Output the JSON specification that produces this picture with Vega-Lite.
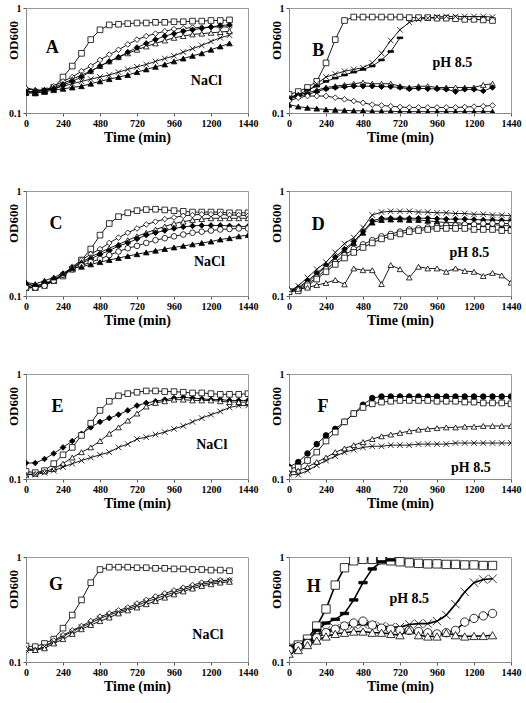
{
"$schema":"https://vega.github.io/schema/vega-lite/v6.json",
"padding":{"left":6,"top":2,"right":0,"bottom":0},
"background":"white",
"data":{"values":[
{"p":"A","s":"sq","t":0,"v":0.16},{"p":"A","s":"sq","t":60,"v":0.155},{"p":"A","s":"sq","t":120,"v":0.16},{"p":"A","s":"sq","t":180,"v":0.175},{"p":"A","s":"sq","t":240,"v":0.22},{"p":"A","s":"sq","t":300,"v":0.28},{"p":"A","s":"sq","t":360,"v":0.37},{"p":"A","s":"sq","t":420,"v":0.5},{"p":"A","s":"sq","t":480,"v":0.62},{"p":"A","s":"sq","t":540,"v":0.69},{"p":"A","s":"sq","t":600,"v":0.7},{"p":"A","s":"sq","t":660,"v":0.71},{"p":"A","s":"sq","t":720,"v":0.72},{"p":"A","s":"sq","t":780,"v":0.72},{"p":"A","s":"sq","t":840,"v":0.73},{"p":"A","s":"sq","t":900,"v":0.73},{"p":"A","s":"sq","t":960,"v":0.74},{"p":"A","s":"sq","t":1020,"v":0.74},{"p":"A","s":"sq","t":1080,"v":0.75},{"p":"A","s":"sq","t":1140,"v":0.75},{"p":"A","s":"sq","t":1200,"v":0.76},{"p":"A","s":"sq","t":1260,"v":0.76},{"p":"A","s":"sq","t":1320,"v":0.77},
{"p":"A","s":"od","t":0,"v":0.17},{"p":"A","s":"od","t":60,"v":0.165},{"p":"A","s":"od","t":120,"v":0.165},{"p":"A","s":"od","t":180,"v":0.18},{"p":"A","s":"od","t":240,"v":0.2},{"p":"A","s":"od","t":300,"v":0.22},{"p":"A","s":"od","t":360,"v":0.25},{"p":"A","s":"od","t":420,"v":0.28},{"p":"A","s":"od","t":480,"v":0.32},{"p":"A","s":"od","t":540,"v":0.36},{"p":"A","s":"od","t":600,"v":0.4},{"p":"A","s":"od","t":660,"v":0.45},{"p":"A","s":"od","t":720,"v":0.5},{"p":"A","s":"od","t":780,"v":0.54},{"p":"A","s":"od","t":840,"v":0.57},{"p":"A","s":"od","t":900,"v":0.6},{"p":"A","s":"od","t":960,"v":0.63},{"p":"A","s":"od","t":1020,"v":0.64},{"p":"A","s":"od","t":1080,"v":0.65},{"p":"A","s":"od","t":1140,"v":0.65},{"p":"A","s":"od","t":1200,"v":0.66},{"p":"A","s":"od","t":1260,"v":0.66},{"p":"A","s":"od","t":1320,"v":0.66},
{"p":"A","s":"ot","t":0,"v":0.175},{"p":"A","s":"ot","t":60,"v":0.165},{"p":"A","s":"ot","t":120,"v":0.165},{"p":"A","s":"ot","t":180,"v":0.175},{"p":"A","s":"ot","t":240,"v":0.19},{"p":"A","s":"ot","t":300,"v":0.21},{"p":"A","s":"ot","t":360,"v":0.23},{"p":"A","s":"ot","t":420,"v":0.25},{"p":"A","s":"ot","t":480,"v":0.28},{"p":"A","s":"ot","t":540,"v":0.31},{"p":"A","s":"ot","t":600,"v":0.34},{"p":"A","s":"ot","t":660,"v":0.37},{"p":"A","s":"ot","t":720,"v":0.4},{"p":"A","s":"ot","t":780,"v":0.43},{"p":"A","s":"ot","t":840,"v":0.46},{"p":"A","s":"ot","t":900,"v":0.49},{"p":"A","s":"ot","t":960,"v":0.52},{"p":"A","s":"ot","t":1020,"v":0.54},{"p":"A","s":"ot","t":1080,"v":0.56},{"p":"A","s":"ot","t":1140,"v":0.57},{"p":"A","s":"ot","t":1200,"v":0.58},{"p":"A","s":"ot","t":1260,"v":0.59},{"p":"A","s":"ot","t":1320,"v":0.6},
{"p":"A","s":"fd","t":0,"v":0.16},{"p":"A","s":"fd","t":60,"v":0.16},{"p":"A","s":"fd","t":120,"v":0.165},{"p":"A","s":"fd","t":180,"v":0.17},{"p":"A","s":"fd","t":240,"v":0.185},{"p":"A","s":"fd","t":300,"v":0.2},{"p":"A","s":"fd","t":360,"v":0.22},{"p":"A","s":"fd","t":420,"v":0.25},{"p":"A","s":"fd","t":480,"v":0.28},{"p":"A","s":"fd","t":540,"v":0.31},{"p":"A","s":"fd","t":600,"v":0.34},{"p":"A","s":"fd","t":660,"v":0.38},{"p":"A","s":"fd","t":720,"v":0.42},{"p":"A","s":"fd","t":780,"v":0.46},{"p":"A","s":"fd","t":840,"v":0.5},{"p":"A","s":"fd","t":900,"v":0.54},{"p":"A","s":"fd","t":960,"v":0.57},{"p":"A","s":"fd","t":1020,"v":0.6},{"p":"A","s":"fd","t":1080,"v":0.62},{"p":"A","s":"fd","t":1140,"v":0.64},{"p":"A","s":"fd","t":1200,"v":0.66},{"p":"A","s":"fd","t":1260,"v":0.68},{"p":"A","s":"fd","t":1320,"v":0.69},
{"p":"A","s":"x","t":0,"v":0.16},{"p":"A","s":"x","t":60,"v":0.16},{"p":"A","s":"x","t":120,"v":0.165},{"p":"A","s":"x","t":180,"v":0.17},{"p":"A","s":"x","t":240,"v":0.18},{"p":"A","s":"x","t":300,"v":0.19},{"p":"A","s":"x","t":360,"v":0.2},{"p":"A","s":"x","t":420,"v":0.21},{"p":"A","s":"x","t":480,"v":0.22},{"p":"A","s":"x","t":540,"v":0.23},{"p":"A","s":"x","t":600,"v":0.245},{"p":"A","s":"x","t":660,"v":0.26},{"p":"A","s":"x","t":720,"v":0.275},{"p":"A","s":"x","t":780,"v":0.29},{"p":"A","s":"x","t":840,"v":0.31},{"p":"A","s":"x","t":900,"v":0.33},{"p":"A","s":"x","t":960,"v":0.35},{"p":"A","s":"x","t":1020,"v":0.38},{"p":"A","s":"x","t":1080,"v":0.41},{"p":"A","s":"x","t":1140,"v":0.44},{"p":"A","s":"x","t":1200,"v":0.48},{"p":"A","s":"x","t":1260,"v":0.52},{"p":"A","s":"x","t":1320,"v":0.55},
{"p":"A","s":"ft","t":0,"v":0.155},{"p":"A","s":"ft","t":60,"v":0.155},{"p":"A","s":"ft","t":120,"v":0.16},{"p":"A","s":"ft","t":180,"v":0.165},{"p":"A","s":"ft","t":240,"v":0.17},{"p":"A","s":"ft","t":300,"v":0.175},{"p":"A","s":"ft","t":360,"v":0.18},{"p":"A","s":"ft","t":420,"v":0.19},{"p":"A","s":"ft","t":480,"v":0.2},{"p":"A","s":"ft","t":540,"v":0.21},{"p":"A","s":"ft","t":600,"v":0.22},{"p":"A","s":"ft","t":660,"v":0.23},{"p":"A","s":"ft","t":720,"v":0.245},{"p":"A","s":"ft","t":780,"v":0.26},{"p":"A","s":"ft","t":840,"v":0.275},{"p":"A","s":"ft","t":900,"v":0.29},{"p":"A","s":"ft","t":960,"v":0.31},{"p":"A","s":"ft","t":1020,"v":0.33},{"p":"A","s":"ft","t":1080,"v":0.35},{"p":"A","s":"ft","t":1140,"v":0.37},{"p":"A","s":"ft","t":1200,"v":0.4},{"p":"A","s":"ft","t":1260,"v":0.43},{"p":"A","s":"ft","t":1320,"v":0.46},
{"p":"B","s":"sq","t":0,"v":0.15},{"p":"B","s":"sq","t":60,"v":0.16},{"p":"B","s":"sq","t":120,"v":0.175},{"p":"B","s":"sq","t":180,"v":0.2},{"p":"B","s":"sq","t":240,"v":0.3},{"p":"B","s":"sq","t":300,"v":0.5},{"p":"B","s":"sq","t":360,"v":0.76},{"p":"B","s":"sq","t":420,"v":0.82},{"p":"B","s":"sq","t":480,"v":0.82},{"p":"B","s":"sq","t":540,"v":0.82},{"p":"B","s":"sq","t":600,"v":0.82},{"p":"B","s":"sq","t":660,"v":0.82},{"p":"B","s":"sq","t":720,"v":0.82},{"p":"B","s":"sq","t":780,"v":0.81},{"p":"B","s":"sq","t":840,"v":0.81},{"p":"B","s":"sq","t":900,"v":0.81},{"p":"B","s":"sq","t":960,"v":0.8},{"p":"B","s":"sq","t":1020,"v":0.8},{"p":"B","s":"sq","t":1080,"v":0.79},{"p":"B","s":"sq","t":1140,"v":0.78},{"p":"B","s":"sq","t":1200,"v":0.78},{"p":"B","s":"sq","t":1260,"v":0.77},{"p":"B","s":"sq","t":1320,"v":0.76},
{"p":"B","s":"x","t":0,"v":0.14},{"p":"B","s":"x","t":60,"v":0.145},{"p":"B","s":"x","t":120,"v":0.16},{"p":"B","s":"x","t":180,"v":0.19},{"p":"B","s":"x","t":240,"v":0.22},{"p":"B","s":"x","t":300,"v":0.235},{"p":"B","s":"x","t":360,"v":0.25},{"p":"B","s":"x","t":420,"v":0.26},{"p":"B","s":"x","t":480,"v":0.27},{"p":"B","s":"x","t":540,"v":0.3},{"p":"B","s":"x","t":600,"v":0.37},{"p":"B","s":"x","t":660,"v":0.49},{"p":"B","s":"x","t":720,"v":0.62},{"p":"B","s":"x","t":780,"v":0.73},{"p":"B","s":"x","t":840,"v":0.78},{"p":"B","s":"x","t":900,"v":0.8},{"p":"B","s":"x","t":960,"v":0.82},{"p":"B","s":"x","t":1020,"v":0.83},{"p":"B","s":"x","t":1080,"v":0.83},{"p":"B","s":"x","t":1140,"v":0.83},{"p":"B","s":"x","t":1200,"v":0.83},{"p":"B","s":"x","t":1260,"v":0.83},{"p":"B","s":"x","t":1320,"v":0.82},
{"p":"B","s":"dash","t":0,"v":0.14},{"p":"B","s":"dash","t":60,"v":0.15},{"p":"B","s":"dash","t":120,"v":0.165},{"p":"B","s":"dash","t":180,"v":0.18},{"p":"B","s":"dash","t":240,"v":0.2},{"p":"B","s":"dash","t":300,"v":0.215},{"p":"B","s":"dash","t":360,"v":0.23},{"p":"B","s":"dash","t":420,"v":0.245},{"p":"B","s":"dash","t":480,"v":0.26},{"p":"B","s":"dash","t":540,"v":0.28},{"p":"B","s":"dash","t":600,"v":0.32},{"p":"B","s":"dash","t":660,"v":0.385},{"p":"B","s":"dash","t":720,"v":0.52},
{"p":"B","s":"ot","t":0,"v":0.14},{"p":"B","s":"ot","t":60,"v":0.15},{"p":"B","s":"ot","t":120,"v":0.155},{"p":"B","s":"ot","t":180,"v":0.165},{"p":"B","s":"ot","t":240,"v":0.175},{"p":"B","s":"ot","t":300,"v":0.18},{"p":"B","s":"ot","t":360,"v":0.185},{"p":"B","s":"ot","t":420,"v":0.19},{"p":"B","s":"ot","t":480,"v":0.195},{"p":"B","s":"ot","t":540,"v":0.19},{"p":"B","s":"ot","t":600,"v":0.19},{"p":"B","s":"ot","t":660,"v":0.19},{"p":"B","s":"ot","t":720,"v":0.18},{"p":"B","s":"ot","t":780,"v":0.175},{"p":"B","s":"ot","t":840,"v":0.18},{"p":"B","s":"ot","t":900,"v":0.18},{"p":"B","s":"ot","t":960,"v":0.175},{"p":"B","s":"ot","t":1020,"v":0.175},{"p":"B","s":"ot","t":1080,"v":0.175},{"p":"B","s":"ot","t":1140,"v":0.175},{"p":"B","s":"ot","t":1200,"v":0.175},{"p":"B","s":"ot","t":1260,"v":0.185},{"p":"B","s":"ot","t":1320,"v":0.19},
{"p":"B","s":"fd","t":0,"v":0.135},{"p":"B","s":"fd","t":60,"v":0.145},{"p":"B","s":"fd","t":120,"v":0.15},{"p":"B","s":"fd","t":180,"v":0.16},{"p":"B","s":"fd","t":240,"v":0.17},{"p":"B","s":"fd","t":300,"v":0.175},{"p":"B","s":"fd","t":360,"v":0.178},{"p":"B","s":"fd","t":420,"v":0.18},{"p":"B","s":"fd","t":480,"v":0.18},{"p":"B","s":"fd","t":540,"v":0.18},{"p":"B","s":"fd","t":600,"v":0.178},{"p":"B","s":"fd","t":660,"v":0.178},{"p":"B","s":"fd","t":720,"v":0.175},{"p":"B","s":"fd","t":780,"v":0.17},{"p":"B","s":"fd","t":840,"v":0.172},{"p":"B","s":"fd","t":900,"v":0.17},{"p":"B","s":"fd","t":960,"v":0.17},{"p":"B","s":"fd","t":1020,"v":0.168},{"p":"B","s":"fd","t":1080,"v":0.16},{"p":"B","s":"fd","t":1140,"v":0.168},{"p":"B","s":"fd","t":1200,"v":0.168},{"p":"B","s":"fd","t":1260,"v":0.162},{"p":"B","s":"fd","t":1320,"v":0.175},
{"p":"B","s":"od","t":0,"v":0.13},{"p":"B","s":"od","t":60,"v":0.14},{"p":"B","s":"od","t":120,"v":0.145},{"p":"B","s":"od","t":180,"v":0.145},{"p":"B","s":"od","t":240,"v":0.145},{"p":"B","s":"od","t":300,"v":0.14},{"p":"B","s":"od","t":360,"v":0.135},{"p":"B","s":"od","t":420,"v":0.13},{"p":"B","s":"od","t":480,"v":0.125},{"p":"B","s":"od","t":540,"v":0.12},{"p":"B","s":"od","t":600,"v":0.118},{"p":"B","s":"od","t":660,"v":0.116},{"p":"B","s":"od","t":720,"v":0.114},{"p":"B","s":"od","t":780,"v":0.113},{"p":"B","s":"od","t":840,"v":0.113},{"p":"B","s":"od","t":900,"v":0.113},{"p":"B","s":"od","t":960,"v":0.113},{"p":"B","s":"od","t":1020,"v":0.113},{"p":"B","s":"od","t":1080,"v":0.113},{"p":"B","s":"od","t":1140,"v":0.114},{"p":"B","s":"od","t":1200,"v":0.115},{"p":"B","s":"od","t":1260,"v":0.116},{"p":"B","s":"od","t":1320,"v":0.118},
{"p":"B","s":"ft","t":0,"v":0.12},{"p":"B","s":"ft","t":60,"v":0.115},{"p":"B","s":"ft","t":120,"v":0.112},{"p":"B","s":"ft","t":180,"v":0.11},{"p":"B","s":"ft","t":240,"v":0.108},{"p":"B","s":"ft","t":300,"v":0.107},{"p":"B","s":"ft","t":360,"v":0.106},{"p":"B","s":"ft","t":420,"v":0.105},{"p":"B","s":"ft","t":480,"v":0.105},{"p":"B","s":"ft","t":540,"v":0.104},{"p":"B","s":"ft","t":600,"v":0.104},{"p":"B","s":"ft","t":660,"v":0.104},{"p":"B","s":"ft","t":720,"v":0.103},{"p":"B","s":"ft","t":780,"v":0.103},{"p":"B","s":"ft","t":840,"v":0.103},{"p":"B","s":"ft","t":900,"v":0.103},{"p":"B","s":"ft","t":960,"v":0.103},{"p":"B","s":"ft","t":1020,"v":0.103},{"p":"B","s":"ft","t":1080,"v":0.103},{"p":"B","s":"ft","t":1140,"v":0.103},{"p":"B","s":"ft","t":1200,"v":0.103},{"p":"B","s":"ft","t":1260,"v":0.103},{"p":"B","s":"ft","t":1320,"v":0.103},
{"p":"C","s":"sq","t":0,"v":0.12},{"p":"C","s":"sq","t":60,"v":0.12},{"p":"C","s":"sq","t":120,"v":0.13},{"p":"C","s":"sq","t":180,"v":0.14},{"p":"C","s":"sq","t":240,"v":0.155},{"p":"C","s":"sq","t":300,"v":0.18},{"p":"C","s":"sq","t":360,"v":0.22},{"p":"C","s":"sq","t":420,"v":0.28},{"p":"C","s":"sq","t":480,"v":0.38},{"p":"C","s":"sq","t":540,"v":0.49},{"p":"C","s":"sq","t":600,"v":0.57},{"p":"C","s":"sq","t":660,"v":0.62},{"p":"C","s":"sq","t":720,"v":0.65},{"p":"C","s":"sq","t":780,"v":0.665},{"p":"C","s":"sq","t":840,"v":0.67},{"p":"C","s":"sq","t":900,"v":0.66},{"p":"C","s":"sq","t":960,"v":0.65},{"p":"C","s":"sq","t":1020,"v":0.64},{"p":"C","s":"sq","t":1080,"v":0.63},{"p":"C","s":"sq","t":1140,"v":0.63},{"p":"C","s":"sq","t":1200,"v":0.63},{"p":"C","s":"sq","t":1260,"v":0.63},{"p":"C","s":"sq","t":1320,"v":0.62},{"p":"C","s":"sq","t":1380,"v":0.62},{"p":"C","s":"sq","t":1440,"v":0.62},
{"p":"C","s":"od","t":0,"v":0.13},{"p":"C","s":"od","t":60,"v":0.125},{"p":"C","s":"od","t":120,"v":0.13},{"p":"C","s":"od","t":180,"v":0.14},{"p":"C","s":"od","t":240,"v":0.16},{"p":"C","s":"od","t":300,"v":0.19},{"p":"C","s":"od","t":360,"v":0.22},{"p":"C","s":"od","t":420,"v":0.25},{"p":"C","s":"od","t":480,"v":0.28},{"p":"C","s":"od","t":540,"v":0.32},{"p":"C","s":"od","t":600,"v":0.36},{"p":"C","s":"od","t":660,"v":0.4},{"p":"C","s":"od","t":720,"v":0.44},{"p":"C","s":"od","t":780,"v":0.48},{"p":"C","s":"od","t":840,"v":0.51},{"p":"C","s":"od","t":900,"v":0.54},{"p":"C","s":"od","t":960,"v":0.56},{"p":"C","s":"od","t":1020,"v":0.58},{"p":"C","s":"od","t":1080,"v":0.59},{"p":"C","s":"od","t":1140,"v":0.6},{"p":"C","s":"od","t":1200,"v":0.6},{"p":"C","s":"od","t":1260,"v":0.6},{"p":"C","s":"od","t":1320,"v":0.59},{"p":"C","s":"od","t":1380,"v":0.59},{"p":"C","s":"od","t":1440,"v":0.58},
{"p":"C","s":"ot","t":0,"v":0.125},{"p":"C","s":"ot","t":60,"v":0.12},{"p":"C","s":"ot","t":120,"v":0.125},{"p":"C","s":"ot","t":180,"v":0.14},{"p":"C","s":"ot","t":240,"v":0.16},{"p":"C","s":"ot","t":300,"v":0.185},{"p":"C","s":"ot","t":360,"v":0.21},{"p":"C","s":"ot","t":420,"v":0.235},{"p":"C","s":"ot","t":480,"v":0.26},{"p":"C","s":"ot","t":540,"v":0.285},{"p":"C","s":"ot","t":600,"v":0.31},{"p":"C","s":"ot","t":660,"v":0.34},{"p":"C","s":"ot","t":720,"v":0.37},{"p":"C","s":"ot","t":780,"v":0.4},{"p":"C","s":"ot","t":840,"v":0.43},{"p":"C","s":"ot","t":900,"v":0.46},{"p":"C","s":"ot","t":960,"v":0.49},{"p":"C","s":"ot","t":1020,"v":0.51},{"p":"C","s":"ot","t":1080,"v":0.53},{"p":"C","s":"ot","t":1140,"v":0.54},{"p":"C","s":"ot","t":1200,"v":0.55},{"p":"C","s":"ot","t":1260,"v":0.55},{"p":"C","s":"ot","t":1320,"v":0.55},{"p":"C","s":"ot","t":1380,"v":0.55},{"p":"C","s":"ot","t":1440,"v":0.55},
{"p":"C","s":"fd","t":0,"v":0.13},{"p":"C","s":"fd","t":60,"v":0.125},{"p":"C","s":"fd","t":120,"v":0.13},{"p":"C","s":"fd","t":180,"v":0.145},{"p":"C","s":"fd","t":240,"v":0.16},{"p":"C","s":"fd","t":300,"v":0.185},{"p":"C","s":"fd","t":360,"v":0.205},{"p":"C","s":"fd","t":420,"v":0.225},{"p":"C","s":"fd","t":480,"v":0.25},{"p":"C","s":"fd","t":540,"v":0.27},{"p":"C","s":"fd","t":600,"v":0.3},{"p":"C","s":"fd","t":660,"v":0.32},{"p":"C","s":"fd","t":720,"v":0.35},{"p":"C","s":"fd","t":780,"v":0.38},{"p":"C","s":"fd","t":840,"v":0.4},{"p":"C","s":"fd","t":900,"v":0.42},{"p":"C","s":"fd","t":960,"v":0.44},{"p":"C","s":"fd","t":1020,"v":0.455},{"p":"C","s":"fd","t":1080,"v":0.465},{"p":"C","s":"fd","t":1140,"v":0.47},{"p":"C","s":"fd","t":1200,"v":0.47},{"p":"C","s":"fd","t":1260,"v":0.47},{"p":"C","s":"fd","t":1320,"v":0.465},{"p":"C","s":"fd","t":1380,"v":0.46},{"p":"C","s":"fd","t":1440,"v":0.46},
{"p":"C","s":"oc","t":0,"v":0.12},{"p":"C","s":"oc","t":60,"v":0.12},{"p":"C","s":"oc","t":120,"v":0.125},{"p":"C","s":"oc","t":180,"v":0.14},{"p":"C","s":"oc","t":240,"v":0.16},{"p":"C","s":"oc","t":300,"v":0.18},{"p":"C","s":"oc","t":360,"v":0.195},{"p":"C","s":"oc","t":420,"v":0.21},{"p":"C","s":"oc","t":480,"v":0.225},{"p":"C","s":"oc","t":540,"v":0.245},{"p":"C","s":"oc","t":600,"v":0.265},{"p":"C","s":"oc","t":660,"v":0.285},{"p":"C","s":"oc","t":720,"v":0.3},{"p":"C","s":"oc","t":780,"v":0.32},{"p":"C","s":"oc","t":840,"v":0.34},{"p":"C","s":"oc","t":900,"v":0.355},{"p":"C","s":"oc","t":960,"v":0.37},{"p":"C","s":"oc","t":1020,"v":0.385},{"p":"C","s":"oc","t":1080,"v":0.4},{"p":"C","s":"oc","t":1140,"v":0.41},{"p":"C","s":"oc","t":1200,"v":0.42},{"p":"C","s":"oc","t":1260,"v":0.43},{"p":"C","s":"oc","t":1320,"v":0.435},{"p":"C","s":"oc","t":1380,"v":0.44},{"p":"C","s":"oc","t":1440,"v":0.44},
{"p":"C","s":"ft","t":0,"v":0.135},{"p":"C","s":"ft","t":60,"v":0.13},{"p":"C","s":"ft","t":120,"v":0.14},{"p":"C","s":"ft","t":180,"v":0.15},{"p":"C","s":"ft","t":240,"v":0.165},{"p":"C","s":"ft","t":300,"v":0.185},{"p":"C","s":"ft","t":360,"v":0.19},{"p":"C","s":"ft","t":420,"v":0.2},{"p":"C","s":"ft","t":480,"v":0.21},{"p":"C","s":"ft","t":540,"v":0.22},{"p":"C","s":"ft","t":600,"v":0.23},{"p":"C","s":"ft","t":660,"v":0.24},{"p":"C","s":"ft","t":720,"v":0.25},{"p":"C","s":"ft","t":780,"v":0.26},{"p":"C","s":"ft","t":840,"v":0.27},{"p":"C","s":"ft","t":900,"v":0.28},{"p":"C","s":"ft","t":960,"v":0.29},{"p":"C","s":"ft","t":1020,"v":0.3},{"p":"C","s":"ft","t":1080,"v":0.31},{"p":"C","s":"ft","t":1140,"v":0.32},{"p":"C","s":"ft","t":1200,"v":0.33},{"p":"C","s":"ft","t":1260,"v":0.345},{"p":"C","s":"ft","t":1320,"v":0.355},{"p":"C","s":"ft","t":1380,"v":0.37},{"p":"C","s":"ft","t":1440,"v":0.38},
{"p":"D","s":"x","t":0,"v":0.11},{"p":"D","s":"x","t":60,"v":0.125},{"p":"D","s":"x","t":120,"v":0.15},{"p":"D","s":"x","t":180,"v":0.18},{"p":"D","s":"x","t":240,"v":0.21},{"p":"D","s":"x","t":300,"v":0.26},{"p":"D","s":"x","t":360,"v":0.315},{"p":"D","s":"x","t":420,"v":0.36},{"p":"D","s":"x","t":480,"v":0.45},{"p":"D","s":"x","t":540,"v":0.59},{"p":"D","s":"x","t":600,"v":0.63},{"p":"D","s":"x","t":660,"v":0.64},{"p":"D","s":"x","t":720,"v":0.64},{"p":"D","s":"x","t":780,"v":0.64},{"p":"D","s":"x","t":840,"v":0.63},{"p":"D","s":"x","t":900,"v":0.63},{"p":"D","s":"x","t":960,"v":0.62},{"p":"D","s":"x","t":1020,"v":0.62},{"p":"D","s":"x","t":1080,"v":0.61},{"p":"D","s":"x","t":1140,"v":0.61},{"p":"D","s":"x","t":1200,"v":0.6},{"p":"D","s":"x","t":1260,"v":0.6},{"p":"D","s":"x","t":1320,"v":0.59},{"p":"D","s":"x","t":1380,"v":0.59},{"p":"D","s":"x","t":1440,"v":0.58},
{"p":"D","s":"fd","t":0,"v":0.11},{"p":"D","s":"fd","t":60,"v":0.12},{"p":"D","s":"fd","t":120,"v":0.14},{"p":"D","s":"fd","t":180,"v":0.165},{"p":"D","s":"fd","t":240,"v":0.195},{"p":"D","s":"fd","t":300,"v":0.235},{"p":"D","s":"fd","t":360,"v":0.28},{"p":"D","s":"fd","t":420,"v":0.33},{"p":"D","s":"fd","t":480,"v":0.41},{"p":"D","s":"fd","t":540,"v":0.52},{"p":"D","s":"fd","t":600,"v":0.55},{"p":"D","s":"fd","t":660,"v":0.55},{"p":"D","s":"fd","t":720,"v":0.55},{"p":"D","s":"fd","t":780,"v":0.55},{"p":"D","s":"fd","t":840,"v":0.55},{"p":"D","s":"fd","t":900,"v":0.55},{"p":"D","s":"fd","t":960,"v":0.545},{"p":"D","s":"fd","t":1020,"v":0.54},{"p":"D","s":"fd","t":1080,"v":0.54},{"p":"D","s":"fd","t":1140,"v":0.54},{"p":"D","s":"fd","t":1200,"v":0.535},{"p":"D","s":"fd","t":1260,"v":0.53},{"p":"D","s":"fd","t":1320,"v":0.53},{"p":"D","s":"fd","t":1380,"v":0.525},{"p":"D","s":"fd","t":1440,"v":0.525},
{"p":"D","s":"ft","t":0,"v":0.11},{"p":"D","s":"ft","t":60,"v":0.118},{"p":"D","s":"ft","t":120,"v":0.135},{"p":"D","s":"ft","t":180,"v":0.16},{"p":"D","s":"ft","t":240,"v":0.19},{"p":"D","s":"ft","t":300,"v":0.225},{"p":"D","s":"ft","t":360,"v":0.27},{"p":"D","s":"ft","t":420,"v":0.32},{"p":"D","s":"ft","t":480,"v":0.4},{"p":"D","s":"ft","t":540,"v":0.5},{"p":"D","s":"ft","t":600,"v":0.53},{"p":"D","s":"ft","t":660,"v":0.535},{"p":"D","s":"ft","t":720,"v":0.535},{"p":"D","s":"ft","t":780,"v":0.53},{"p":"D","s":"ft","t":840,"v":0.53},{"p":"D","s":"ft","t":900,"v":0.52},{"p":"D","s":"ft","t":960,"v":0.51},{"p":"D","s":"ft","t":1020,"v":0.5},{"p":"D","s":"ft","t":1080,"v":0.5},{"p":"D","s":"ft","t":1140,"v":0.49},{"p":"D","s":"ft","t":1200,"v":0.49},{"p":"D","s":"ft","t":1260,"v":0.48},{"p":"D","s":"ft","t":1320,"v":0.48},{"p":"D","s":"ft","t":1380,"v":0.47},{"p":"D","s":"ft","t":1440,"v":0.465},
{"p":"D","s":"oc","t":0,"v":0.11},{"p":"D","s":"oc","t":60,"v":0.115},{"p":"D","s":"oc","t":120,"v":0.13},{"p":"D","s":"oc","t":180,"v":0.15},{"p":"D","s":"oc","t":240,"v":0.18},{"p":"D","s":"oc","t":300,"v":0.21},{"p":"D","s":"oc","t":360,"v":0.245},{"p":"D","s":"oc","t":420,"v":0.28},{"p":"D","s":"oc","t":480,"v":0.31},{"p":"D","s":"oc","t":540,"v":0.34},{"p":"D","s":"oc","t":600,"v":0.37},{"p":"D","s":"oc","t":660,"v":0.39},{"p":"D","s":"oc","t":720,"v":0.41},{"p":"D","s":"oc","t":780,"v":0.43},{"p":"D","s":"oc","t":840,"v":0.44},{"p":"D","s":"oc","t":900,"v":0.45},{"p":"D","s":"oc","t":960,"v":0.46},{"p":"D","s":"oc","t":1020,"v":0.47},{"p":"D","s":"oc","t":1080,"v":0.47},{"p":"D","s":"oc","t":1140,"v":0.48},{"p":"D","s":"oc","t":1200,"v":0.48},{"p":"D","s":"oc","t":1260,"v":0.49},{"p":"D","s":"oc","t":1320,"v":0.49},{"p":"D","s":"oc","t":1380,"v":0.49},{"p":"D","s":"oc","t":1440,"v":0.49},
{"p":"D","s":"sq","t":0,"v":0.11},{"p":"D","s":"sq","t":60,"v":0.112},{"p":"D","s":"sq","t":120,"v":0.125},{"p":"D","s":"sq","t":180,"v":0.145},{"p":"D","s":"sq","t":240,"v":0.17},{"p":"D","s":"sq","t":300,"v":0.2},{"p":"D","s":"sq","t":360,"v":0.23},{"p":"D","s":"sq","t":420,"v":0.26},{"p":"D","s":"sq","t":480,"v":0.29},{"p":"D","s":"sq","t":540,"v":0.32},{"p":"D","s":"sq","t":600,"v":0.35},{"p":"D","s":"sq","t":660,"v":0.37},{"p":"D","s":"sq","t":720,"v":0.39},{"p":"D","s":"sq","t":780,"v":0.41},{"p":"D","s":"sq","t":840,"v":0.42},{"p":"D","s":"sq","t":900,"v":0.43},{"p":"D","s":"sq","t":960,"v":0.44},{"p":"D","s":"sq","t":1020,"v":0.44},{"p":"D","s":"sq","t":1080,"v":0.44},{"p":"D","s":"sq","t":1140,"v":0.44},{"p":"D","s":"sq","t":1200,"v":0.43},{"p":"D","s":"sq","t":1260,"v":0.43},{"p":"D","s":"sq","t":1320,"v":0.43},{"p":"D","s":"sq","t":1380,"v":0.42},{"p":"D","s":"sq","t":1440,"v":0.42},
{"p":"D","s":"ot","t":0,"v":0.116},{"p":"D","s":"ot","t":60,"v":0.117},{"p":"D","s":"ot","t":120,"v":0.12},{"p":"D","s":"ot","t":180,"v":0.127},{"p":"D","s":"ot","t":240,"v":0.133},{"p":"D","s":"ot","t":300,"v":0.142},{"p":"D","s":"ot","t":360,"v":0.129},{"p":"D","s":"ot","t":420,"v":0.183},{"p":"D","s":"ot","t":480,"v":0.176},{"p":"D","s":"ot","t":540,"v":0.176},{"p":"D","s":"ot","t":600,"v":0.13},{"p":"D","s":"ot","t":660,"v":0.197},{"p":"D","s":"ot","t":720,"v":0.18},{"p":"D","s":"ot","t":780,"v":0.15},{"p":"D","s":"ot","t":840,"v":0.19},{"p":"D","s":"ot","t":900,"v":0.183},{"p":"D","s":"ot","t":960,"v":0.183},{"p":"D","s":"ot","t":1020,"v":0.17},{"p":"D","s":"ot","t":1080,"v":0.183},{"p":"D","s":"ot","t":1140,"v":0.173},{"p":"D","s":"ot","t":1200,"v":0.17},{"p":"D","s":"ot","t":1260,"v":0.155},{"p":"D","s":"ot","t":1320,"v":0.166},{"p":"D","s":"ot","t":1380,"v":0.157},{"p":"D","s":"ot","t":1440,"v":0.134},
{"p":"E","s":"fd","t":0,"v":0.142},{"p":"E","s":"fd","t":60,"v":0.142},{"p":"E","s":"fd","t":120,"v":0.155},{"p":"E","s":"fd","t":180,"v":0.175},{"p":"E","s":"fd","t":240,"v":0.2},{"p":"E","s":"fd","t":300,"v":0.23},{"p":"E","s":"fd","t":360,"v":0.27},{"p":"E","s":"fd","t":420,"v":0.31},{"p":"E","s":"fd","t":480,"v":0.35},{"p":"E","s":"fd","t":540,"v":0.38},{"p":"E","s":"fd","t":600,"v":0.41},{"p":"E","s":"fd","t":660,"v":0.45},{"p":"E","s":"fd","t":720,"v":0.5},{"p":"E","s":"fd","t":780,"v":0.53},{"p":"E","s":"fd","t":840,"v":0.55},{"p":"E","s":"fd","t":900,"v":0.57},{"p":"E","s":"fd","t":960,"v":0.59},{"p":"E","s":"fd","t":1020,"v":0.6},{"p":"E","s":"fd","t":1080,"v":0.59},{"p":"E","s":"fd","t":1140,"v":0.58},{"p":"E","s":"fd","t":1200,"v":0.57},{"p":"E","s":"fd","t":1260,"v":0.57},{"p":"E","s":"fd","t":1320,"v":0.56},{"p":"E","s":"fd","t":1380,"v":0.56},{"p":"E","s":"fd","t":1440,"v":0.56},
{"p":"E","s":"sq","t":0,"v":0.118},{"p":"E","s":"sq","t":60,"v":0.115},{"p":"E","s":"sq","t":120,"v":0.12},{"p":"E","s":"sq","t":180,"v":0.14},{"p":"E","s":"sq","t":240,"v":0.17},{"p":"E","s":"sq","t":300,"v":0.2},{"p":"E","s":"sq","t":360,"v":0.26},{"p":"E","s":"sq","t":420,"v":0.34},{"p":"E","s":"sq","t":480,"v":0.45},{"p":"E","s":"sq","t":540,"v":0.55},{"p":"E","s":"sq","t":600,"v":0.62},{"p":"E","s":"sq","t":660,"v":0.65},{"p":"E","s":"sq","t":720,"v":0.67},{"p":"E","s":"sq","t":780,"v":0.69},{"p":"E","s":"sq","t":840,"v":0.69},{"p":"E","s":"sq","t":900,"v":0.68},{"p":"E","s":"sq","t":960,"v":0.68},{"p":"E","s":"sq","t":1020,"v":0.67},{"p":"E","s":"sq","t":1080,"v":0.66},{"p":"E","s":"sq","t":1140,"v":0.66},{"p":"E","s":"sq","t":1200,"v":0.65},{"p":"E","s":"sq","t":1260,"v":0.64},{"p":"E","s":"sq","t":1320,"v":0.64},{"p":"E","s":"sq","t":1380,"v":0.64},{"p":"E","s":"sq","t":1440,"v":0.65},
{"p":"E","s":"ot","t":0,"v":0.11},{"p":"E","s":"ot","t":60,"v":0.112},{"p":"E","s":"ot","t":120,"v":0.118},{"p":"E","s":"ot","t":180,"v":0.125},{"p":"E","s":"ot","t":240,"v":0.14},{"p":"E","s":"ot","t":300,"v":0.16},{"p":"E","s":"ot","t":360,"v":0.18},{"p":"E","s":"ot","t":420,"v":0.2},{"p":"E","s":"ot","t":480,"v":0.23},{"p":"E","s":"ot","t":540,"v":0.27},{"p":"E","s":"ot","t":600,"v":0.31},{"p":"E","s":"ot","t":660,"v":0.36},{"p":"E","s":"ot","t":720,"v":0.42},{"p":"E","s":"ot","t":780,"v":0.49},{"p":"E","s":"ot","t":840,"v":0.53},{"p":"E","s":"ot","t":900,"v":0.55},{"p":"E","s":"ot","t":960,"v":0.57},{"p":"E","s":"ot","t":1020,"v":0.57},{"p":"E","s":"ot","t":1080,"v":0.56},{"p":"E","s":"ot","t":1140,"v":0.56},{"p":"E","s":"ot","t":1200,"v":0.56},{"p":"E","s":"ot","t":1260,"v":0.55},{"p":"E","s":"ot","t":1320,"v":0.54},{"p":"E","s":"ot","t":1380,"v":0.54},{"p":"E","s":"ot","t":1440,"v":0.54},
{"p":"E","s":"x","t":0,"v":0.11},{"p":"E","s":"x","t":60,"v":0.11},{"p":"E","s":"x","t":120,"v":0.115},{"p":"E","s":"x","t":180,"v":0.12},{"p":"E","s":"x","t":240,"v":0.13},{"p":"E","s":"x","t":300,"v":0.14},{"p":"E","s":"x","t":360,"v":0.15},{"p":"E","s":"x","t":420,"v":0.16},{"p":"E","s":"x","t":480,"v":0.17},{"p":"E","s":"x","t":540,"v":0.18},{"p":"E","s":"x","t":600,"v":0.2},{"p":"E","s":"x","t":660,"v":0.215},{"p":"E","s":"x","t":720,"v":0.24},{"p":"E","s":"x","t":780,"v":0.25},{"p":"E","s":"x","t":840,"v":0.265},{"p":"E","s":"x","t":900,"v":0.28},{"p":"E","s":"x","t":960,"v":0.3},{"p":"E","s":"x","t":1020,"v":0.32},{"p":"E","s":"x","t":1080,"v":0.35},{"p":"E","s":"x","t":1140,"v":0.38},{"p":"E","s":"x","t":1200,"v":0.41},{"p":"E","s":"x","t":1260,"v":0.44},{"p":"E","s":"x","t":1320,"v":0.48},{"p":"E","s":"x","t":1380,"v":0.5},{"p":"E","s":"x","t":1440,"v":0.5},
{"p":"F","s":"fc","t":0,"v":0.13},{"p":"F","s":"fc","t":60,"v":0.145},{"p":"F","s":"fc","t":120,"v":0.175},{"p":"F","s":"fc","t":180,"v":0.215},{"p":"F","s":"fc","t":240,"v":0.26},{"p":"F","s":"fc","t":300,"v":0.3},{"p":"F","s":"fc","t":360,"v":0.35},{"p":"F","s":"fc","t":420,"v":0.42},{"p":"F","s":"fc","t":480,"v":0.51},{"p":"F","s":"fc","t":540,"v":0.59},{"p":"F","s":"fc","t":600,"v":0.61},{"p":"F","s":"fc","t":660,"v":0.61},{"p":"F","s":"fc","t":720,"v":0.61},{"p":"F","s":"fc","t":780,"v":0.61},{"p":"F","s":"fc","t":840,"v":0.61},{"p":"F","s":"fc","t":900,"v":0.61},{"p":"F","s":"fc","t":960,"v":0.61},{"p":"F","s":"fc","t":1020,"v":0.61},{"p":"F","s":"fc","t":1080,"v":0.61},{"p":"F","s":"fc","t":1140,"v":0.61},{"p":"F","s":"fc","t":1200,"v":0.61},{"p":"F","s":"fc","t":1260,"v":0.61},{"p":"F","s":"fc","t":1320,"v":0.61},{"p":"F","s":"fc","t":1380,"v":0.61},{"p":"F","s":"fc","t":1440,"v":0.61},
{"p":"F","s":"sq","t":0,"v":0.125},{"p":"F","s":"sq","t":60,"v":0.13},{"p":"F","s":"sq","t":120,"v":0.15},{"p":"F","s":"sq","t":180,"v":0.18},{"p":"F","s":"sq","t":240,"v":0.23},{"p":"F","s":"sq","t":300,"v":0.28},{"p":"F","s":"sq","t":360,"v":0.35},{"p":"F","s":"sq","t":420,"v":0.42},{"p":"F","s":"sq","t":480,"v":0.48},{"p":"F","s":"sq","t":540,"v":0.52},{"p":"F","s":"sq","t":600,"v":0.54},{"p":"F","s":"sq","t":660,"v":0.55},{"p":"F","s":"sq","t":720,"v":0.56},{"p":"F","s":"sq","t":780,"v":0.56},{"p":"F","s":"sq","t":840,"v":0.56},{"p":"F","s":"sq","t":900,"v":0.56},{"p":"F","s":"sq","t":960,"v":0.55},{"p":"F","s":"sq","t":1020,"v":0.55},{"p":"F","s":"sq","t":1080,"v":0.55},{"p":"F","s":"sq","t":1140,"v":0.54},{"p":"F","s":"sq","t":1200,"v":0.54},{"p":"F","s":"sq","t":1260,"v":0.53},{"p":"F","s":"sq","t":1320,"v":0.53},{"p":"F","s":"sq","t":1380,"v":0.53},{"p":"F","s":"sq","t":1440,"v":0.52},
{"p":"F","s":"ot","t":0,"v":0.115},{"p":"F","s":"ot","t":60,"v":0.12},{"p":"F","s":"ot","t":120,"v":0.13},{"p":"F","s":"ot","t":180,"v":0.145},{"p":"F","s":"ot","t":240,"v":0.16},{"p":"F","s":"ot","t":300,"v":0.18},{"p":"F","s":"ot","t":360,"v":0.195},{"p":"F","s":"ot","t":420,"v":0.21},{"p":"F","s":"ot","t":480,"v":0.225},{"p":"F","s":"ot","t":540,"v":0.24},{"p":"F","s":"ot","t":600,"v":0.255},{"p":"F","s":"ot","t":660,"v":0.265},{"p":"F","s":"ot","t":720,"v":0.275},{"p":"F","s":"ot","t":780,"v":0.285},{"p":"F","s":"ot","t":840,"v":0.295},{"p":"F","s":"ot","t":900,"v":0.3},{"p":"F","s":"ot","t":960,"v":0.305},{"p":"F","s":"ot","t":1020,"v":0.31},{"p":"F","s":"ot","t":1080,"v":0.31},{"p":"F","s":"ot","t":1140,"v":0.315},{"p":"F","s":"ot","t":1200,"v":0.315},{"p":"F","s":"ot","t":1260,"v":0.32},{"p":"F","s":"ot","t":1320,"v":0.32},{"p":"F","s":"ot","t":1380,"v":0.32},{"p":"F","s":"ot","t":1440,"v":0.32},
{"p":"F","s":"x","t":0,"v":0.11},{"p":"F","s":"x","t":60,"v":0.11},{"p":"F","s":"x","t":120,"v":0.12},{"p":"F","s":"x","t":180,"v":0.135},{"p":"F","s":"x","t":240,"v":0.15},{"p":"F","s":"x","t":300,"v":0.165},{"p":"F","s":"x","t":360,"v":0.18},{"p":"F","s":"x","t":420,"v":0.19},{"p":"F","s":"x","t":480,"v":0.2},{"p":"F","s":"x","t":540,"v":0.205},{"p":"F","s":"x","t":600,"v":0.205},{"p":"F","s":"x","t":660,"v":0.21},{"p":"F","s":"x","t":720,"v":0.21},{"p":"F","s":"x","t":780,"v":0.21},{"p":"F","s":"x","t":840,"v":0.215},{"p":"F","s":"x","t":900,"v":0.215},{"p":"F","s":"x","t":960,"v":0.215},{"p":"F","s":"x","t":1020,"v":0.215},{"p":"F","s":"x","t":1080,"v":0.22},{"p":"F","s":"x","t":1140,"v":0.22},{"p":"F","s":"x","t":1200,"v":0.22},{"p":"F","s":"x","t":1260,"v":0.22},{"p":"F","s":"x","t":1320,"v":0.22},{"p":"F","s":"x","t":1380,"v":0.22},{"p":"F","s":"x","t":1440,"v":0.22},
{"p":"G","s":"sq","t":0,"v":0.142},{"p":"G","s":"sq","t":60,"v":0.14},{"p":"G","s":"sq","t":120,"v":0.15},{"p":"G","s":"sq","t":180,"v":0.165},{"p":"G","s":"sq","t":240,"v":0.21},{"p":"G","s":"sq","t":300,"v":0.28},{"p":"G","s":"sq","t":360,"v":0.39},{"p":"G","s":"sq","t":420,"v":0.57},{"p":"G","s":"sq","t":480,"v":0.76},{"p":"G","s":"sq","t":540,"v":0.8},{"p":"G","s":"sq","t":600,"v":0.8},{"p":"G","s":"sq","t":660,"v":0.8},{"p":"G","s":"sq","t":720,"v":0.79},{"p":"G","s":"sq","t":780,"v":0.79},{"p":"G","s":"sq","t":840,"v":0.78},{"p":"G","s":"sq","t":900,"v":0.78},{"p":"G","s":"sq","t":960,"v":0.77},{"p":"G","s":"sq","t":1020,"v":0.77},{"p":"G","s":"sq","t":1080,"v":0.76},{"p":"G","s":"sq","t":1140,"v":0.76},{"p":"G","s":"sq","t":1200,"v":0.75},{"p":"G","s":"sq","t":1260,"v":0.75},{"p":"G","s":"sq","t":1320,"v":0.74},
{"p":"G","s":"od","t":0,"v":0.13},{"p":"G","s":"od","t":60,"v":0.13},{"p":"G","s":"od","t":120,"v":0.14},{"p":"G","s":"od","t":180,"v":0.16},{"p":"G","s":"od","t":240,"v":0.18},{"p":"G","s":"od","t":300,"v":0.2},{"p":"G","s":"od","t":360,"v":0.22},{"p":"G","s":"od","t":420,"v":0.245},{"p":"G","s":"od","t":480,"v":0.27},{"p":"G","s":"od","t":540,"v":0.29},{"p":"G","s":"od","t":600,"v":0.31},{"p":"G","s":"od","t":660,"v":0.33},{"p":"G","s":"od","t":720,"v":0.36},{"p":"G","s":"od","t":780,"v":0.39},{"p":"G","s":"od","t":840,"v":0.42},{"p":"G","s":"od","t":900,"v":0.45},{"p":"G","s":"od","t":960,"v":0.48},{"p":"G","s":"od","t":1020,"v":0.51},{"p":"G","s":"od","t":1080,"v":0.54},{"p":"G","s":"od","t":1140,"v":0.57},{"p":"G","s":"od","t":1200,"v":0.59},{"p":"G","s":"od","t":1260,"v":0.6},{"p":"G","s":"od","t":1320,"v":0.6},
{"p":"G","s":"x","t":0,"v":0.13},{"p":"G","s":"x","t":60,"v":0.13},{"p":"G","s":"x","t":120,"v":0.14},{"p":"G","s":"x","t":180,"v":0.155},{"p":"G","s":"x","t":240,"v":0.175},{"p":"G","s":"x","t":300,"v":0.195},{"p":"G","s":"x","t":360,"v":0.215},{"p":"G","s":"x","t":420,"v":0.235},{"p":"G","s":"x","t":480,"v":0.26},{"p":"G","s":"x","t":540,"v":0.28},{"p":"G","s":"x","t":600,"v":0.3},{"p":"G","s":"x","t":660,"v":0.32},{"p":"G","s":"x","t":720,"v":0.345},{"p":"G","s":"x","t":780,"v":0.375},{"p":"G","s":"x","t":840,"v":0.4},{"p":"G","s":"x","t":900,"v":0.43},{"p":"G","s":"x","t":960,"v":0.46},{"p":"G","s":"x","t":1020,"v":0.49},{"p":"G","s":"x","t":1080,"v":0.52},{"p":"G","s":"x","t":1140,"v":0.55},{"p":"G","s":"x","t":1200,"v":0.57},{"p":"G","s":"x","t":1260,"v":0.59},{"p":"G","s":"x","t":1320,"v":0.6},
{"p":"G","s":"ot","t":0,"v":0.135},{"p":"G","s":"ot","t":60,"v":0.13},{"p":"G","s":"ot","t":120,"v":0.135},{"p":"G","s":"ot","t":180,"v":0.15},{"p":"G","s":"ot","t":240,"v":0.165},{"p":"G","s":"ot","t":300,"v":0.185},{"p":"G","s":"ot","t":360,"v":0.205},{"p":"G","s":"ot","t":420,"v":0.225},{"p":"G","s":"ot","t":480,"v":0.245},{"p":"G","s":"ot","t":540,"v":0.265},{"p":"G","s":"ot","t":600,"v":0.29},{"p":"G","s":"ot","t":660,"v":0.31},{"p":"G","s":"ot","t":720,"v":0.33},{"p":"G","s":"ot","t":780,"v":0.355},{"p":"G","s":"ot","t":840,"v":0.38},{"p":"G","s":"ot","t":900,"v":0.41},{"p":"G","s":"ot","t":960,"v":0.44},{"p":"G","s":"ot","t":1020,"v":0.47},{"p":"G","s":"ot","t":1080,"v":0.5},{"p":"G","s":"ot","t":1140,"v":0.53},{"p":"G","s":"ot","t":1200,"v":0.55},{"p":"G","s":"ot","t":1260,"v":0.57},{"p":"G","s":"ot","t":1320,"v":0.58},
{"p":"H","s":"sq","t":0,"v":0.135},{"p":"H","s":"sq","t":60,"v":0.145},{"p":"H","s":"sq","t":120,"v":0.165},{"p":"H","s":"sq","t":180,"v":0.22},{"p":"H","s":"sq","t":240,"v":0.32},{"p":"H","s":"sq","t":300,"v":0.54},{"p":"H","s":"sq","t":360,"v":0.79},{"p":"H","s":"sq","t":420,"v":0.92},{"p":"H","s":"sq","t":480,"v":0.95},{"p":"H","s":"sq","t":540,"v":0.95},{"p":"H","s":"sq","t":600,"v":0.94},{"p":"H","s":"sq","t":660,"v":0.92},{"p":"H","s":"sq","t":720,"v":0.9},{"p":"H","s":"sq","t":780,"v":0.88},{"p":"H","s":"sq","t":840,"v":0.87},{"p":"H","s":"sq","t":900,"v":0.86},{"p":"H","s":"sq","t":960,"v":0.86},{"p":"H","s":"sq","t":1020,"v":0.85},{"p":"H","s":"sq","t":1080,"v":0.85},{"p":"H","s":"sq","t":1140,"v":0.84},{"p":"H","s":"sq","t":1200,"v":0.84},{"p":"H","s":"sq","t":1260,"v":0.83},{"p":"H","s":"sq","t":1320,"v":0.83},
{"p":"H","s":"dash","t":0,"v":0.14},{"p":"H","s":"dash","t":60,"v":0.145},{"p":"H","s":"dash","t":120,"v":0.16},{"p":"H","s":"dash","t":180,"v":0.2},{"p":"H","s":"dash","t":240,"v":0.235},{"p":"H","s":"dash","t":300,"v":0.255},{"p":"H","s":"dash","t":360,"v":0.29},{"p":"H","s":"dash","t":420,"v":0.39},{"p":"H","s":"dash","t":480,"v":0.57},{"p":"H","s":"dash","t":540,"v":0.77},{"p":"H","s":"dash","t":600,"v":0.9},{"p":"H","s":"dash","t":660,"v":0.94},
{"p":"H","s":"x","t":0,"v":0.13},{"p":"H","s":"x","t":60,"v":0.14},{"p":"H","s":"x","t":120,"v":0.155},{"p":"H","s":"x","t":180,"v":0.18},{"p":"H","s":"x","t":240,"v":0.2},{"p":"H","s":"x","t":300,"v":0.21},{"p":"H","s":"x","t":360,"v":0.22},{"p":"H","s":"x","t":420,"v":0.225},{"p":"H","s":"x","t":480,"v":0.228},{"p":"H","s":"x","t":540,"v":0.225},{"p":"H","s":"x","t":600,"v":0.22},{"p":"H","s":"x","t":660,"v":0.215},{"p":"H","s":"x","t":720,"v":0.215},{"p":"H","s":"x","t":780,"v":0.228},{"p":"H","s":"x","t":840,"v":0.232},{"p":"H","s":"x","t":900,"v":0.232},{"p":"H","s":"x","t":960,"v":0.245},{"p":"H","s":"x","t":1020,"v":0.28},{"p":"H","s":"x","t":1080,"v":0.355},{"p":"H","s":"x","t":1140,"v":0.465},{"p":"H","s":"x","t":1200,"v":0.57},{"p":"H","s":"x","t":1260,"v":0.61},{"p":"H","s":"x","t":1320,"v":0.62},
{"p":"H","s":"oc","t":0,"v":0.13},{"p":"H","s":"oc","t":60,"v":0.14},{"p":"H","s":"oc","t":120,"v":0.15},{"p":"H","s":"oc","t":180,"v":0.17},{"p":"H","s":"oc","t":240,"v":0.19},{"p":"H","s":"oc","t":300,"v":0.205},{"p":"H","s":"oc","t":360,"v":0.22},{"p":"H","s":"oc","t":420,"v":0.235},{"p":"H","s":"oc","t":480,"v":0.245},{"p":"H","s":"oc","t":540,"v":0.225},{"p":"H","s":"oc","t":600,"v":0.21},{"p":"H","s":"oc","t":660,"v":0.205},{"p":"H","s":"oc","t":720,"v":0.2},{"p":"H","s":"oc","t":780,"v":0.2},{"p":"H","s":"oc","t":840,"v":0.195},{"p":"H","s":"oc","t":900,"v":0.19},{"p":"H","s":"oc","t":960,"v":0.185},{"p":"H","s":"oc","t":1020,"v":0.19},{"p":"H","s":"oc","t":1080,"v":0.2},{"p":"H","s":"oc","t":1140,"v":0.24},{"p":"H","s":"oc","t":1200,"v":0.26},{"p":"H","s":"oc","t":1260,"v":0.275},{"p":"H","s":"oc","t":1320,"v":0.29},
{"p":"H","s":"ot","t":0,"v":0.12},{"p":"H","s":"ot","t":60,"v":0.13},{"p":"H","s":"ot","t":120,"v":0.145},{"p":"H","s":"ot","t":180,"v":0.16},{"p":"H","s":"ot","t":240,"v":0.175},{"p":"H","s":"ot","t":300,"v":0.185},{"p":"H","s":"ot","t":360,"v":0.19},{"p":"H","s":"ot","t":420,"v":0.195},{"p":"H","s":"ot","t":480,"v":0.195},{"p":"H","s":"ot","t":540,"v":0.19},{"p":"H","s":"ot","t":600,"v":0.19},{"p":"H","s":"ot","t":660,"v":0.185},{"p":"H","s":"ot","t":720,"v":0.18},{"p":"H","s":"ot","t":780,"v":0.2},{"p":"H","s":"ot","t":840,"v":0.18},{"p":"H","s":"ot","t":900,"v":0.175},{"p":"H","s":"ot","t":960,"v":0.175},{"p":"H","s":"ot","t":1020,"v":0.19},{"p":"H","s":"ot","t":1080,"v":0.18},{"p":"H","s":"ot","t":1140,"v":0.175},{"p":"H","s":"ot","t":1200,"v":0.177},{"p":"H","s":"ot","t":1260,"v":0.177},{"p":"H","s":"ot","t":1320,"v":0.18},
{"p":"A","t":170,"v":0.42,"txt":"A","k":"L"},{"p":"A","t":1170,"v":0.2,"txt":"NaCl","k":"C"},
{"p":"B","t":190,"v":0.39,"txt":"B","k":"L"},{"p":"B","t":1060,"v":0.3,"txt":"pH 8.5","k":"C"},
{"p":"C","t":195,"v":0.48,"txt":"C","k":"L"},{"p":"C","t":1190,"v":0.21,"txt":"NaCl","k":"C"},
{"p":"D","t":190,"v":0.47,"txt":"D","k":"L"},{"p":"D","t":1170,"v":0.255,"txt":"pH 8.5","k":"C"},
{"p":"E","t":205,"v":0.49,"txt":"E","k":"L"},{"p":"E","t":1205,"v":0.21,"txt":"NaCl","k":"C"},
{"p":"F","t":220,"v":0.48,"txt":"F","k":"L"},{"p":"F","t":1180,"v":0.127,"txt":"pH 8.5","k":"C"},
{"p":"G","t":195,"v":0.54,"txt":"G","k":"L"},{"p":"G","t":1180,"v":0.18,"txt":"NaCl","k":"C"},
{"p":"H","t":160,"v":0.52,"txt":"H","k":"L"},{"p":"H","t":780,"v":0.395,"txt":"pH 8.5","k":"C"}
]},
"facet":{"field":"p","type":"nominal","title":null,"header":{"labels":false,"labelExpr":"''","labelFontSize":0,"labelPadding":0,"title":null}},
"columns":2,
"bounds":"flush",
"spacing":{"row":78,"column":41},
"resolve":{"axis":{"x":"independent","y":"independent"}},
"spec":{
 "width":222,"height":105,
 "encoding":{
  "x":{"field":"t","type":"quantitative","scale":{"domain":[0,1440],"nice":false},
       "axis":{"title":"Time (min)","values":[0,240,480,720,960,1200,1440],"format":"d","grid":false,"labelFontSize":10,"titleFontSize":14,"tickSize":3,"labelPadding":2,"titlePadding":2,"labelFlush":false}},
  "y":{"field":"v","type":"quantitative","scale":{"type":"log","domain":[0.1,1],"nice":false},
       "axis":{"title":"OD600","values":[0.1,1],"format":"~g","grid":false,"labelFontSize":10,"titleFontSize":13,"tickSize":3,"labelPadding":2,"titleX":-13,"titleY":32,"titleAngle":270,"titleAlign":"center","titleBaseline":"middle","labelFlush":false}}
 },
 "layer":[
  {"transform":[{"filter":"isValid(datum.s)"}],
   "mark":{"type":"line","color":"black","clip":true},
   "encoding":{"detail":{"field":"s","type":"nominal"},"order":{"field":"t","type":"quantitative"},
     "strokeWidth":{"condition":{"test":"datum.p==='H'","value":1.6},"value":0.9}}},
  {"transform":[{"filter":"isValid(datum.s)"}],
   "mark":{"type":"point","stroke":"black","strokeWidth":0.8,"opacity":1,"clip":true},
   "encoding":{
     "shape":{"field":"s","type":"nominal","legend":null,"scale":{"domain":["sq","od","fd","ot","ft","x","oc","fc","dash"],"range":["square","diamond","diamond","triangle-up","triangle-up","M-1,-1L1,1M-1,1L1,-1","circle","circle","M-1,-0.3H1V0.3H-1Z"]}},
     "fill":{"field":"s","type":"nominal","legend":null,"scale":{"domain":["sq","od","fd","ot","ft","x","oc","fc","dash"],"range":["white","white","black","white","black","black","white","black","black"]}},
     "size":{"condition":{"test":"datum.p==='H'","value":70},"value":32}}},
  {"transform":[{"filter":"datum.k==='L'"}],
   "mark":{"type":"text","font":"Liberation Serif","fontWeight":"bold","fontSize":18,"align":"center","baseline":"middle","color":"black"},
   "encoding":{"text":{"field":"txt","type":"nominal"}}},
  {"transform":[{"filter":"datum.k==='C'"}],
   "mark":{"type":"text","font":"Liberation Serif","fontWeight":"bold","fontSize":14,"align":"center","baseline":"middle","color":"black"},
   "encoding":{"text":{"field":"txt","type":"nominal"}}}
 ]
},
"config":{
 "header":{"labels":false,"title":null,"labelFontSize":0},
 "view":{"stroke":"#9a9a9a","strokeWidth":1},
 "axis":{"labelFont":"Liberation Serif","labelFontWeight":"bold","labelColor":"black","titleFont":"Liberation Serif","titleFontWeight":"bold","titleColor":"black","domainColor":"#8a8a8a","tickColor":"#555"}
}
}
